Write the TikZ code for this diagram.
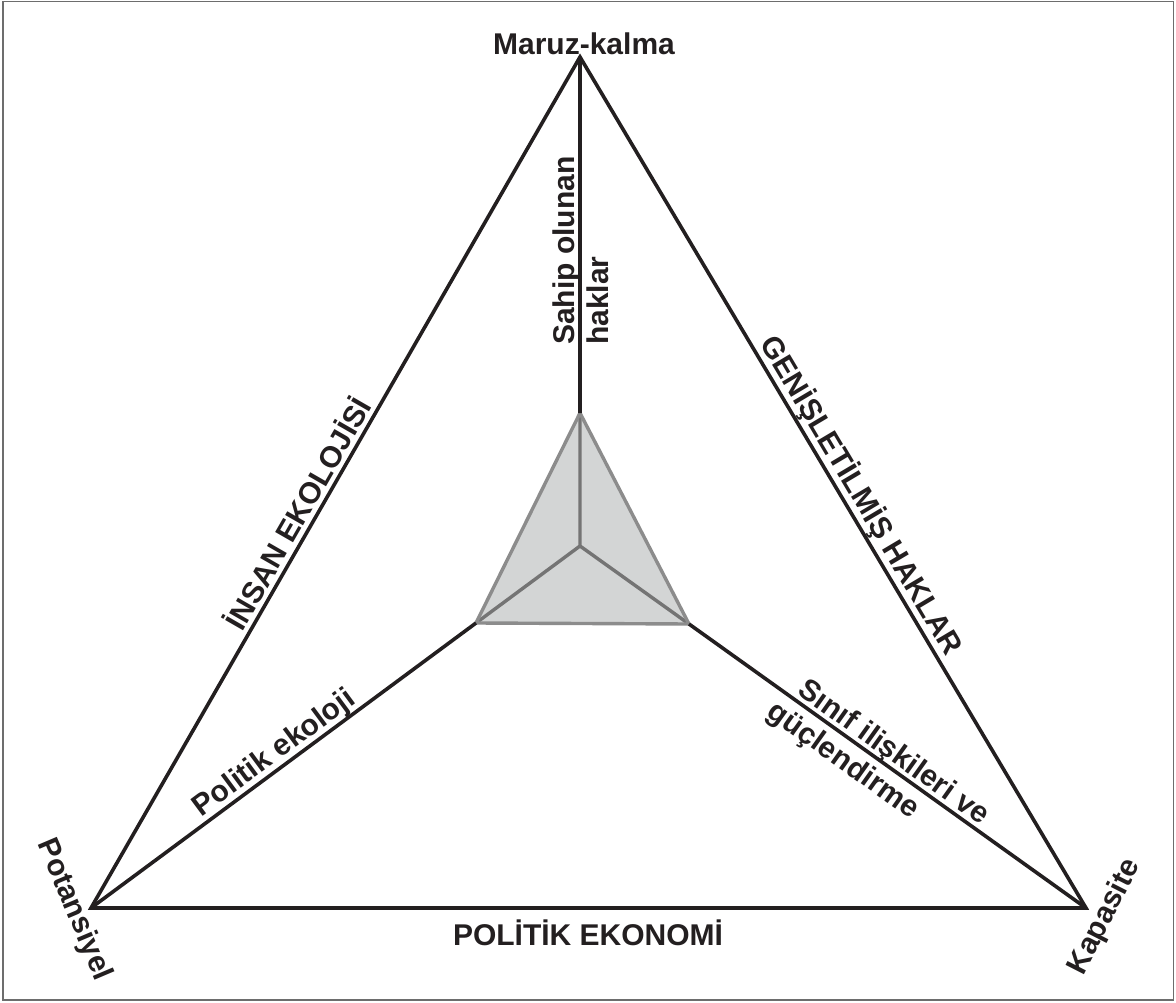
\documentclass[tikz,border=0pt]{standalone}
\usepackage{fontspec}
\setmainfont{Liberation Sans}
\definecolor{ink}{HTML}{231F20}
\definecolor{fillg}{HTML}{D3D5D5}
\definecolor{edgeg}{HTML}{8C8C8C}
\definecolor{spokeg}{HTML}{747474}
\definecolor{frameg}{HTML}{6D6D6D}
\begin{document}
\begin{tikzpicture}[x=1pt,y=-1pt,
  lbl/.style={font=\bfseries\fontsize{30}{36}\selectfont, text=ink, inner sep=0pt},
  mainedge/.style={draw=ink, line width=3.6pt},
  inneredge/.style={draw=edgeg, line width=3.4pt, line join=round},
  spoke/.style={draw=spokeg, line width=3.4pt},
  frameline/.style={draw=frameg, line width=1.5pt}]
\useasboundingbox (0,0) rectangle (1176,1003);
\draw[frameline] (3,1.5) rectangle (1173.5,1000);

\coordinate (T) at (580,57);
\coordinate (L) at (91,908);
\coordinate (R) at (1086,908);
\coordinate (A) at (580,413);
\coordinate (B) at (476,623);
\coordinate (C) at (689,624);
\coordinate (O) at (580,546);

\fill[fillg] (A) -- (B) -- (C) -- cycle;
\draw[spoke] (O) -- (A) (O) -- (B) (O) -- (C);
\draw[inneredge] (A) -- (B) -- (C) -- cycle;
\draw[mainedge, line join=miter] (T) -- (L) -- (R) -- cycle;
\draw[mainedge] (T) -- (A) (L) -- (B) (R) -- (C);

\path (L) -- (T) node[lbl, sloped, pos=0.453, anchor=base, yshift=6pt] (ie) {İNSAN EKOLOJİSİ};
\path (T) -- (R) node[lbl, sloped, pos=0.526, anchor=base, yshift=8pt] (gh) {GENİŞLETİLMİŞ HAKLAR};
\path (L) -- (B) node[lbl, sloped, pos=0.5, anchor=base, yshift=7pt] (pe) {Politik ekoloji};
\path (C) -- (R) node[lbl, sloped, pos=0.262, anchor=base west, yshift=6pt] (s1) {Sınıf ilişkileri ve};
\path (C) -- (R) node[lbl, sloped, pos=0.237, anchor=base west, yshift=-30pt] (s2) {güçlendirme};

\node[lbl, rotate=90, anchor=base west] (sh1) at (574,345) {Sahip olunan};
\node[lbl, rotate=90, anchor=base west] (sh2) at (608,345) {haklar};

\node[lbl, anchor=base] (mk) at (584,55) {Maruz-kalma};
\node[lbl, rotate=-67] (pot) at (74,910) {Potansiyel};
\node[lbl, rotate=63] (kap) at (1105,917) {Kapasite};
\node[lbl, anchor=base] (pol) at (588,945) {POLİTİK EKONOMİ};
\end{tikzpicture}
\end{document}
